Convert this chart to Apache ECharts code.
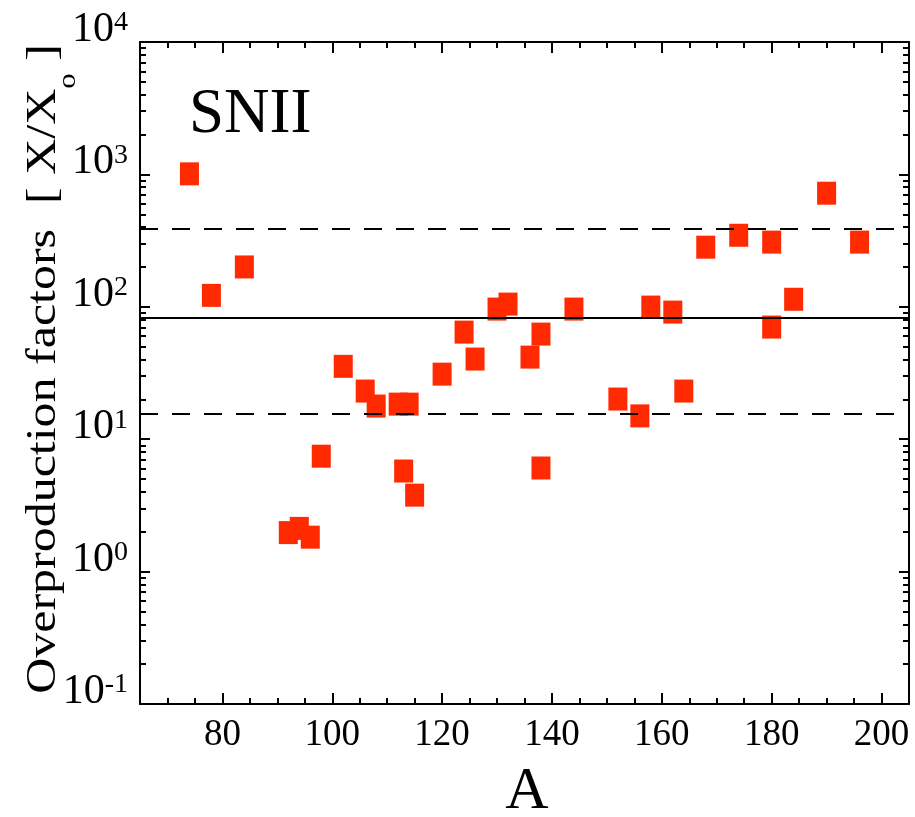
<!DOCTYPE html>
<html>
<head>
<meta charset="utf-8">
<title>SNII overproduction factors</title>
<script src="https://cdn.jsdelivr.net/npm/echarts@6/dist/echarts.min.js"></script>
<style>
  html, body { margin: 0; padding: 0; background: #fff; }
  #chart { width: 915px; height: 817px; }
</style>
</head>
<body>
<div id="chart"></div>
<script>
// Mass number A of each nuclide
const massNumbers = [74, 78, 84, 92, 94, 96, 98, 102, 106, 108, 112, 113, 114, 115,
  120, 124, 126, 130, 132, 136, 138, 138, 144, 152, 156, 158, 162, 164,
  168, 174, 180, 180, 184, 190, 196];
// Overproduction factor X/X_o of each nuclide
const overproduction = [1010, 122, 200, 1.97, 2.12, 1.82, 7.44, 35.5, 23.1, 17.8, 18.4, 5.75, 18.4, 3.78,
  31.0, 64.4, 40.3, 96.1, 104.8, 41.7, 62.2, 6.06, 96.1, 20.1, 15.0, 99.5, 91.2, 23.1,
  282, 347, 308, 70.3, 114, 721, 308];
// Mean overproduction and the band around it
const meanFactor = 83;
const bandUpper = 390;
const bandLower = 15.5;

// Tick values
const xMajorTicks = [80, 100, 120, 140, 160, 180, 200];
const xMinorTicks = [70, 75, 85, 90, 95, 105, 110, 115, 125, 130, 135, 145, 150, 155,
  165, 170, 175, 185, 190, 195];
const yDecades = [-1, 0, 1, 2, 3, 4];
const yMinorMantissas = [2, 3, 4, 5, 6, 7, 8, 9];

const xMin = 65, xMax = 205;
const yMin = 0.1, yMax = 10000;

const FONT = '"Liberation Serif", "Times New Roman", serif';

// minor ticks of the log axis, as log10 positions on a helper linear axis
const yMinorLog = [];
yDecades.slice(0, -1).forEach(d => {
  yMinorMantissas.forEach(m => yMinorLog.push(d + Math.log10(m)));
});

const points = massNumbers.map((a, i) => [a, overproduction[i]]);

const chart = echarts.init(document.getElementById('chart'), null, { renderer: 'canvas' });

function lineDef(show) {
  return { show: show, onZero: false, lineStyle: { color: '#000', width: 2 } };
}
function tickLine() {
  return { color: '#000', width: 2 };
}

function xAxisDef(position, ticks, len, showLine, showLabel) {
  return {
    type: 'value', position, min: xMin, max: xMax,
    axisLine: lineDef(showLine),
    axisTick: { show: true, inside: true, length: len, customValues: ticks, lineStyle: tickLine() },
    axisLabel: showLabel ? {
      show: true, customValues: ticks, margin: 13,
      fontFamily: FONT, fontSize: 37, color: '#000'
    } : { show: false },
    splitLine: { show: false }
  };
}

function yLogAxisDef(position, showLabel) {
  return {
    type: 'log', logBase: 10, position, min: yMin, max: yMax,
    axisLine: lineDef(true),
    axisTick: { show: true, inside: true, length: 10, lineStyle: tickLine() },
    axisLabel: showLabel ? {
      show: true, margin: 12,
      // "10" with the exponent raised; the spacer line lifts the pair above the tick
      formatter: v => '{b|10}{s|' + Math.round(Math.log10(v)) + '}\n{e| }',
      rich: {
        b: { fontFamily: FONT, fontSize: 42, color: '#000', lineHeight: 42, verticalAlign: 'top' },
        s: { fontFamily: FONT, fontSize: 28, color: '#000', lineHeight: 24, verticalAlign: 'top' },
        e: { fontFamily: FONT, fontSize: 10, lineHeight: 24 }
      }
    } : { show: false },
    splitLine: { show: false }
  };
}

function yMinorAxisDef(position) {
  return {
    type: 'value', position, min: -1, max: 4,
    axisLine: lineDef(false),
    axisTick: { show: true, inside: true, length: 6, customValues: yMinorLog, lineStyle: tickLine() },
    axisLabel: { show: false },
    splitLine: { show: false }
  };
}

const option = {
  animation: false,
  backgroundColor: '#fff',
  grid: { left: 140, right: 6, top: 42, bottom: 113, outerBoundsMode: 'none' },
  xAxis: [
    xAxisDef('bottom', xMajorTicks, 11, true, true),
    xAxisDef('bottom', xMinorTicks, 6, false, false),
    xAxisDef('top', xMajorTicks, 11, true, false),
    xAxisDef('top', xMinorTicks, 6, false, false)
  ],
  yAxis: [
    yLogAxisDef('left', true),
    yMinorAxisDef('left'),
    yLogAxisDef('right', false),
    yMinorAxisDef('right')
  ],
  graphic: [
    {
      type: 'text', x: 189, y: 115,
      style: { text: 'SNII', font: '63px ' + FONT, fill: '#000', textAlign: 'left', textVerticalAlign: 'middle' }
    },
    {
      type: 'text', x: 527, y: 792,
      style: { text: 'A', font: '60px ' + FONT, fill: '#000', textAlign: 'center', textVerticalAlign: 'middle' }
    },
    {
      type: 'text', x: 44, y: 369, rotation: Math.PI / 2, scaleX: 1.19,
      style: {
        text: '{m|Overproduction factors  [ X/X}{sub|o}{m| ]}',
        textAlign: 'center', textVerticalAlign: 'middle',
        rich: {
          m: { fontFamily: FONT, fontSize: 42, lineHeight: 42, fill: '#000', verticalAlign: 'top' },
          sub: { fontFamily: FONT, fontSize: 26, lineHeight: 26, fill: '#000', padding: [32, 0, 0, 0], verticalAlign: 'top' }
        }
      }
    }
  ],
  series: [
    {
      type: 'scatter',
      xAxisIndex: 0, yAxisIndex: 0,
      data: points,
      symbol: 'rect',
      symbolSize: [19, 23],
      itemStyle: { color: '#ff2a00', opacity: 1 },
      z: 3,
      markLine: {
        silent: true,
        symbol: 'none',
        label: { show: false },
        z: 4,
        data: [
          { yAxis: bandUpper, lineStyle: { color: '#000', width: 2, type: [18, 14] } },
          { yAxis: meanFactor, lineStyle: { color: '#000', width: 2, type: 'solid' } },
          { yAxis: bandLower, lineStyle: { color: '#000', width: 2, type: [18, 14] } }
        ]
      }
    }
  ]
};

chart.setOption(option);
</script>
</body>
</html>
